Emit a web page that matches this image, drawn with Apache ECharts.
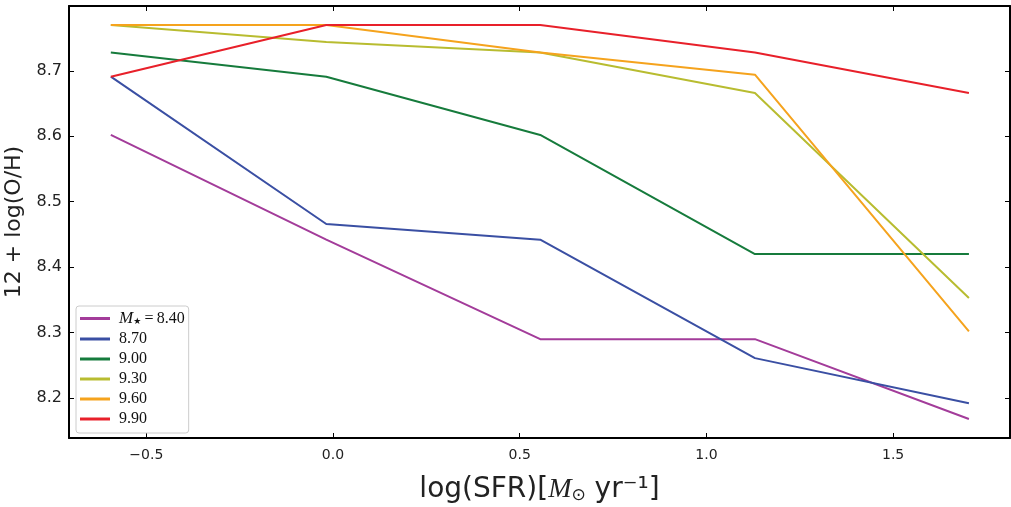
<!DOCTYPE html>
<html>
<head>
<meta charset="utf-8">
<script src="https://cdn.jsdelivr.net/npm/echarts@6/dist/echarts.min.js"></script>
<style>
html, body { margin: 0; padding: 0; background: #fff; }
#chart { width: 1011px; height: 507px; }
</style>
</head>
<body>
<div id="chart"></div>
<script>
var sfr = [-0.595, -0.018, 0.555, 1.13, 1.703];
var massLabels = ['8.40', '8.70', '9.00', '9.30', '9.60', '9.90'];
var oh_840 = [8.602, 8.442, 8.290, 8.290, 8.168];
var oh_870 = [8.691, 8.466, 8.442, 8.261, 8.192];
var oh_900 = [8.728, 8.691, 8.602, 8.420, 8.420];
var oh_930 = [8.770, 8.744, 8.728, 8.666, 8.353];
var oh_960 = [8.770, 8.770, 8.728, 8.694, 8.302];
var oh_990 = [8.691, 8.770, 8.770, 8.728, 8.666];
var xTicks = [-0.5, 0.0, 0.5, 1.0, 1.5];
var yTicks = [8.2, 8.3, 8.4, 8.5, 8.6, 8.7];

var colors = ['#a33c9a', '#3a4fa3', '#167b3c', '#b8bc30', '#f5a31d', '#e8202a'];
var allValues = [oh_840, oh_870, oh_900, oh_930, oh_960, oh_990];

var series = massLabels.map(function (name, i) {
    return {
        name: name,
        type: 'line',
        showSymbol: false,
        symbol: 'none',
        lineStyle: { width: 2, color: colors[i] },
        itemStyle: { color: colors[i] },
        data: sfr.map(function (x, j) { return [x, allValues[i][j]]; })
    };
});

var frame = { show: true, onZero: false, lineStyle: { color: '#000', width: 2 } };
var tickIn = function (vals) {
    return { show: true, inside: true, length: 5, customValues: vals, lineStyle: { color: '#000', width: 1 } };
};

echarts.init(document.getElementById('chart')).setOption({
    animation: false,
    color: colors,
    grid: { left: 69, right: 1, top: 6, bottom: 69, outerBoundsMode: 'none', containLabel: false },
    legend: {
        orient: 'vertical',
        left: 76,
        top: 306,
        icon: 'rect',
        itemWidth: 30,
        itemHeight: 3,
        itemGap: 4,
        padding: [4, 4, 6, 4],
        borderColor: '#cccccc',
        borderWidth: 1,
        borderRadius: 3,
        backgroundColor: '#fff',
        data: massLabels,
        formatter: function (name) {
            return name === '8.40' ? '{it|M}{sub|★}{n|\u2009=\u20098.40}' : name;
        },
        textStyle: {
            fontFamily: 'Liberation Serif',
            fontSize: 16,
            lineHeight: 16,
            color: '#111',
            padding: [0, 0, 0, 4],
            rich: {
                it: { fontFamily: 'Liberation Serif', fontStyle: 'italic', fontSize: 17, color: '#111' },
                sub: { fontFamily: 'DejaVu Sans', fontSize: 9, verticalAlign: 'bottom', padding: [7, 0, 0, 0], color: '#111' },
                n: { fontFamily: 'Liberation Serif', fontSize: 16, color: '#111' }
            }
        }
    },
    xAxis: [{
        type: 'value',
        min: -0.707,
        max: 1.813,
        position: 'bottom',
        axisLine: frame,
        axisTick: tickIn(xTicks),
        splitLine: { show: false },
        axisLabel: {
            customValues: xTicks,
            margin: 10,
            fontFamily: 'DejaVu Sans',
            fontSize: 14,
            color: '#222',
            formatter: function (v) { return (v < 0 ? '\u2212' : '') + Math.abs(v).toFixed(1); }
        },
        name: '{a|log(SFR)[}{m|M}{s|⊙}{a| yr⁻¹]}',
        nameLocation: 'middle',
        nameGap: 38,
        nameTextStyle: {
            rich: {
                a: { fontFamily: 'DejaVu Sans', fontSize: 28, color: '#222' },
                m: { fontFamily: 'Liberation Serif', fontStyle: 'italic', fontSize: 28, color: '#222' },
                s: { fontFamily: 'DejaVu Sans', fontSize: 17, color: '#222', verticalAlign: 'bottom', padding: [11, 0, 0, 0] }
            }
        }
    }, {
        type: 'value',
        min: -0.707,
        max: 1.813,
        position: 'top',
        axisLine: frame,
        axisTick: tickIn(xTicks),
        axisLabel: { show: false },
        splitLine: { show: false }
    }],
    yAxis: [{
        type: 'value',
        min: 8.139,
        max: 8.799,
        position: 'left',
        axisLine: frame,
        axisTick: tickIn(yTicks),
        splitLine: { show: false },
        axisLabel: {
            customValues: yTicks,
            margin: 7,
            fontFamily: 'DejaVu Sans',
            fontSize: 16,
            color: '#222',
            formatter: function (v) { return v.toFixed(1); }
        },
        name: '12 + log(O/H)',
        nameLocation: 'middle',
        nameGap: 41,
        nameTextStyle: { fontFamily: 'DejaVu Sans', fontSize: 22, color: '#222' }
    }, {
        type: 'value',
        min: 8.139,
        max: 8.799,
        position: 'right',
        axisLine: frame,
        axisTick: tickIn(yTicks),
        axisLabel: { show: false },
        splitLine: { show: false }
    }],
    series: series
});
</script>
</body>
</html>
